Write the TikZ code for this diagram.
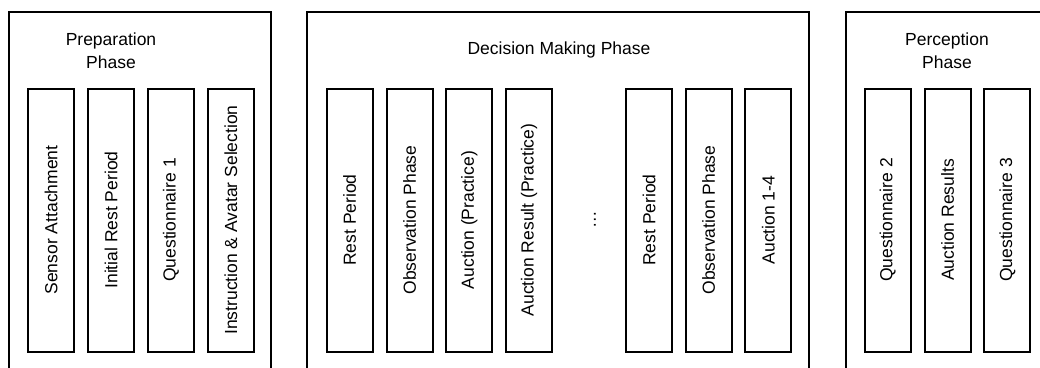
\documentclass[tikz,border=0pt]{standalone}
\usepackage{fontspec}
\setmainfont{Liberation Sans}
\begin{document}
\begin{tikzpicture}[x=1pt,y=-1pt,
  phasebox/.style={draw=black,line width=2pt},
  stepbox/.style={draw=black,line width=2pt,rotate=90,minimum width=263pt,
    minimum height=46pt,inner sep=0pt,font=\fontsize{17.5}{23}\selectfont},
  phasetitle/.style={align=center,inner sep=0pt,font=\fontsize{17.5}{23}\selectfont}]
\useasboundingbox (0,0) rectangle (1040,367);
\clip (0,0) rectangle (1040,367);
% phase frames (open towards the bottom)
\draw[phasebox] (9,400) -- (9,11.7) -- (270.7,11.7) -- (270.7,400);
\draw[phasebox] (306.7,400) -- (306.7,11.7) -- (809.3,11.7) -- (809.3,400);
\draw[phasebox] (846,400) -- (846,11.7) -- (1060,11.7);
% phase titles
\node[phasetitle] (tprep) at (111,50.5) {Preparation\\Phase};
\node[phasetitle] (tdec) at (559,50) {Decision Making Phase};
\node[phasetitle] (tperc) at (947,50.5) {Perception\\Phase};
% preparation steps
\node[stepbox] (p1) at (51.2,220) {Sensor Attachment};
\node[stepbox] (p2) at (111.1,220) {Initial Rest Period};
\node[stepbox] (p3) at (171,220) {Questionnaire 1};
\node[stepbox] (p4) at (230.8,220) {Instruction \& Avatar Selection};
% decision making steps
\node[stepbox] (d1) at (349.7,220) {Rest Period};
\node[stepbox] (d2) at (409.6,220) {Observation Phase};
\node[stepbox] (d3) at (469.4,220) {Auction (Practice)};
\node[stepbox] (d4) at (529.2,220) {Auction Result (Practice)};
\node[rotate=90,inner sep=0pt,font=\fontsize{17.5}{23}\selectfont] (dots) at (595,220) {…};
\node[stepbox] (d5) at (649,220) {Rest Period};
\node[stepbox] (d6) at (708.7,220) {Observation Phase};
\node[stepbox] (d7) at (768.4,220) {Auction 1-4};
% perception steps
\node[stepbox] (q1) at (887.7,220) {Questionnaire 2};
\node[stepbox] (q2) at (947.5,220) {Auction Results};
\node[stepbox] (q3) at (1007.3,220) {Questionnaire 3};
\end{tikzpicture}
\end{document}
